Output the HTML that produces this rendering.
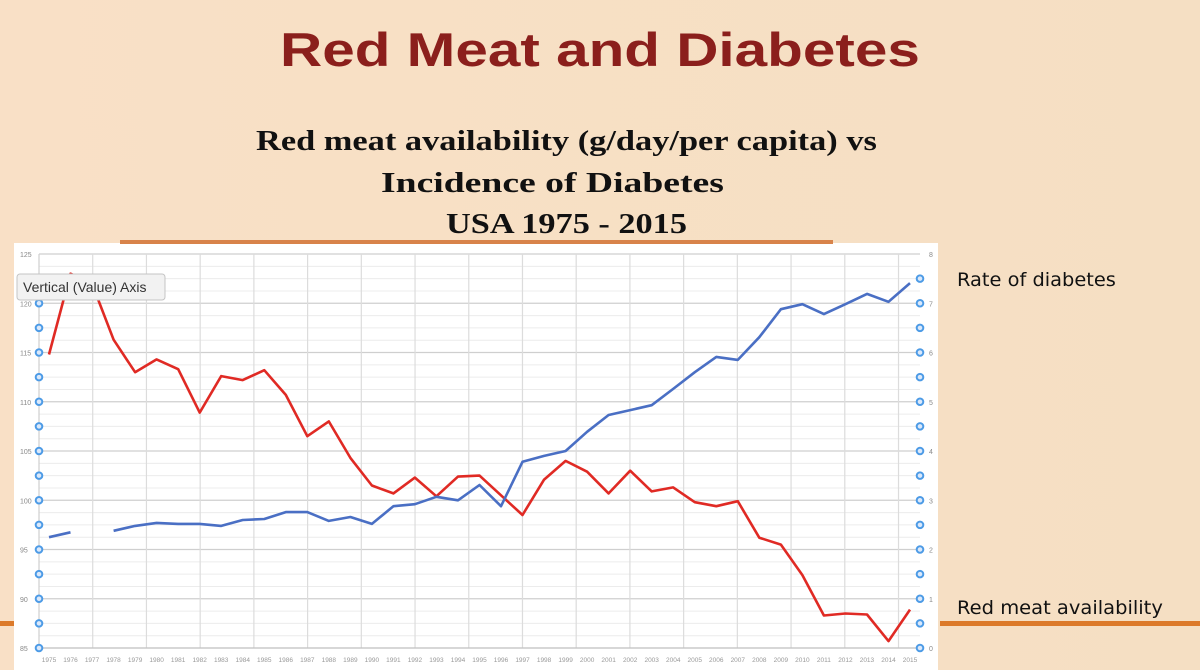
<!DOCTYPE html>
<html><head><meta charset="utf-8"><style>
html,body{margin:0;padding:0;width:1200px;height:670px;overflow:hidden;background:#f7dfc4;}
svg{display:block}
</style></head><body>
<svg id="root" width="1200" height="670" xmlns="http://www.w3.org/2000/svg">
<defs><linearGradient id="bg" x1="0" x2="1" y1="0" y2="0"><stop offset="0" stop-color="#f9e0c6"/><stop offset="1" stop-color="#f5dfc3"/></linearGradient></defs>
<rect width="1200" height="670" fill="url(#bg)"/>
<text class="fit" data-x="280" data-w="640" y="66" font-family="Liberation Sans, sans-serif" font-weight="bold" font-size="47" fill="#8b1f1c">Red Meat and Diabetes</text>
<text class="fit" data-x="256" data-w="621" y="150" font-family="Liberation Serif, serif" font-weight="bold" font-size="29" fill="#111">Red meat availability (g/day/per capita) vs</text>
<text class="fit" data-x="381" data-w="343" y="192" font-family="Liberation Serif, serif" font-weight="bold" font-size="29" fill="#111">Incidence of Diabetes</text>
<text class="fit" data-x="446" data-w="241" y="233" font-family="Liberation Serif, serif" font-weight="bold" font-size="29" fill="#111">USA 1975 - 2015</text>
<rect x="0" y="621" width="16" height="5" fill="#dc7a2a"/>
<rect x="940" y="621" width="260" height="5" fill="#dc7a2a"/>
<rect x="14" y="243" width="924" height="427" fill="#ffffff"/>
<rect x="120" y="240" width="713" height="4" fill="#d8834a"/>
<g id="grid"></g>
<g id="ticks"></g>
<g id="series"></g>
<g id="handles"></g>
<g>
<rect x="17" y="274" width="148" height="26" rx="3" fill="#f2f2f2" stroke="#c4c4c4"/>
<text x="23" y="292" font-family="Liberation Sans, sans-serif" font-size="14" fill="#333">Vertical (Value) Axis</text>
</g>
<text class="fit" data-x="957" data-w="159" y="286" font-family="DejaVu Sans, sans-serif" font-size="19" fill="#111">Rate of diabetes</text>
<text class="fit" data-x="957" data-w="206" y="614" font-family="DejaVu Sans, sans-serif" font-size="19" fill="#111">Red meat availability</text>
</svg>
<script>
const years = [1975,1976,1977,1978,1979,1980,1981,1982,1983,1984,1985,1986,1987,1988,1989,1990,1991,1992,1993,1994,1995,1996,1997,1998,1999,2000,2001,2002,2003,2004,2005,2006,2007,2008,2009,2010,2011,2012,2013,2014,2015];
const redMeat = [114.8,123,122,116.3,113,114.3,113.3,108.9,112.6,112.2,113.2,110.7,106.5,108,104.3,101.5,100.7,102.3,100.4,102.4,102.5,100.5,98.5,102.1,104,102.9,100.7,103,100.9,101.3,99.8,99.4,99.9,96.2,95.5,92.4,88.3,88.5,88.4,85.7,88.9];
const diabetes = [2.25,2.35,null,2.38,2.48,2.54,2.52,2.52,2.48,2.6,2.62,2.76,2.76,2.58,2.66,2.52,2.88,2.92,3.07,3.0,3.31,2.88,3.78,3.9,4.0,4.39,4.73,4.83,4.93,5.26,5.6,5.91,5.85,6.31,6.88,6.98,6.78,6.98,7.19,7.03,7.41];
const leftTicks = [85,90,95,100,105,110,115,120,125];
const rightTicks = [0,1,2,3,4,5,6,7,8];
const NS="http://www.w3.org/2000/svg";
const X0=49,X1=910,Y0=648,Y1=254,PL=39,PR=920;
const xs = y => X0+(y-years[0])*(X1-X0)/(years[years.length-1]-years[0]);
const yl = v => Y0-(v-85)*(Y0-Y1)/40;
const yr = v => Y0-v*(Y0-Y1)/8;
function mk(tag,attrs,parent){const e=document.createElementNS(NS,tag);for(const k in attrs)e.setAttribute(k,attrs[k]);document.getElementById(parent).appendChild(e);return e;}
document.querySelectorAll('text.fit').forEach(t=>{
  const w=t.getComputedTextLength(), tw=+t.getAttribute('data-w'), x=+t.getAttribute('data-x');
  const s=tw/w;
  t.setAttribute('x',0);
  t.setAttribute('transform','translate('+x+',0) scale('+s+',1)');
});
for(let v=85;v<=125;v+=1.25){
  const major = Math.abs((v-85)%5)<0.01;
  const l=mk('line',{x1:PL,x2:PR,y1:yl(v),y2:yl(v),stroke:major?'#cfcfcf':'#ececec','stroke-width':major?1.3:1},'grid');
  
  
}
for(let i=0;i<=16;i++){
  const x=PL+i*(PR-PL)/16.4;
  const l=mk('line',{x1:x,x2:x,y1:Y1,y2:Y0,stroke:'#dcdcdc','stroke-width':1.2},'grid');
  
  
}
leftTicks.forEach(v=>{
  const t=mk('text',{x:20,y:yl(v)+3,'font-family':'Liberation Sans, sans-serif','font-size':7,fill:'#888'},'ticks');
  t.textContent=v;
  
  
});
rightTicks.forEach(v=>{
  const t=mk('text',{x:929,y:yr(v)+3,'font-family':'Liberation Sans, sans-serif','font-size':7,fill:'#888'},'ticks');
  t.textContent=v;
  
  
});
years.forEach(y=>{
  const t=mk('text',{x:xs(y),y:662,'text-anchor':'middle','font-family':'Liberation Sans, sans-serif','font-size':6.5,fill:'#999'},'ticks');
  t.textContent=y;
  
  
});
let d='';redMeat.forEach((v,i)=>{d+=(i?'L':'M')+xs(years[i]).toFixed(1)+' '+yl(v).toFixed(1);});
const red=mk('path',{d:d,fill:'none',stroke:'#e02a24','stroke-width':2.6,'stroke-linejoin':'round'},'series');


let db='',pen=false;diabetes.forEach((v,i)=>{if(v==null){pen=false;return;}db+=(pen?'L':'M')+xs(years[i]).toFixed(1)+' '+yr(v).toFixed(1);pen=true;});
const blue=mk('path',{d:db,fill:'none',stroke:'#4a6fc4','stroke-width':2.6,'stroke-linejoin':'round'},'series');


const al=mk('line',{x1:PL,x2:PL,y1:Y1,y2:Y0,stroke:'#ccc'},'grid');


const bl=mk('line',{x1:PL,x2:PR,y1:Y0,y2:Y0,stroke:'#bbb'},'grid');


[0,0.5,1,1.5,2,2.5,3,3.5,4,4.5,5,5.5,6,6.5,7,7.5].forEach(k=>{
  const y=Y0-k*(Y0-Y1)/8;
  [PL,PR].forEach(x=>{
    const c=mk('circle',{cx:x,cy:y,r:3.3,fill:'#dbe9fb',stroke:'#4d9be6','stroke-width':2},'handles');
    
    
  });
});
</script>
</body></html>
